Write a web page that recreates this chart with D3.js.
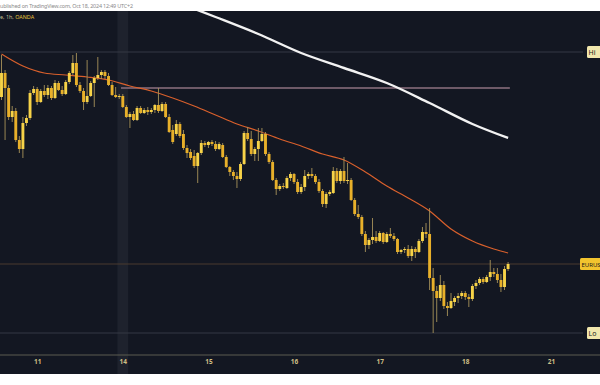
<!DOCTYPE html>
<html>
<head>
<meta charset="utf-8">
<script src="https://cdnjs.cloudflare.com/ajax/libs/d3/7.8.5/d3.min.js"></script>
<style>
  body { margin: 0; background: #fff; }
  svg { display: block; font-family: "Noto Sans", sans-serif; }
</style>
</head>
<body>
<div id="chart"></div>
<script>
// EURUSD 1h, OANDA - bar index 0 = first visible candle
var dayLabels = ["11", "14", "15", "16", "17", "18", "21"];
var dayBars = [10, 34, 58, 82, 106, 130, 154];

var open = [
  1.09335, 1.09455, 1.09380, 1.09235, 1.09265, 1.09120, 1.09075, 1.09205, 1.09230, 1.09355,
  1.09375, 1.09310, 1.09365, 1.09345, 1.09380, 1.09330, 1.09405, 1.09370, 1.09350, 1.09410,
  1.09455, 1.09505, 1.09395, 1.09365, 1.09310, 1.09340, 1.09405, 1.09430, 1.09445, 1.09460,
  1.09440, 1.09395, 1.09345, 1.09335, 1.09340, 1.09285, 1.09235, 1.09250, 1.09220, 1.09280,
  1.09255, 1.09270, 1.09260, 1.09270, 1.09295, 1.09265, 1.09300, 1.09235, 1.09170, 1.09150,
  1.09200, 1.09150, 1.09080, 1.09060, 1.09040, 1.08990, 1.09055, 1.09105, 1.09095, 1.09110,
  1.09100, 1.09075, 1.09095, 1.09035, 1.08985, 1.08960, 1.08940, 1.08925, 1.09000, 1.09155,
  1.09125, 1.09050, 1.09075, 1.09115, 1.09150, 1.09050, 1.09010, 1.08920, 1.08875, 1.08890,
  1.08880, 1.08930, 1.08950, 1.08910, 1.08860, 1.08885, 1.08940, 1.08950, 1.08940, 1.08910,
  1.08865, 1.08800, 1.08850, 1.08855, 1.08965, 1.08915, 1.08965, 1.08915, 1.08920, 1.08820,
  1.08750, 1.08735, 1.08650, 1.08595, 1.08620, 1.08635, 1.08615, 1.08655, 1.08610, 1.08650,
  1.08640, 1.08625, 1.08560, 1.08570, 1.08575, 1.08540, 1.08575, 1.08560, 1.08615, 1.08660,
  1.08650, 1.08430, 1.08365, 1.08330, 1.08395, 1.08290, 1.08280, 1.08310, 1.08330, 1.08340,
  1.08355, 1.08335, 1.08325, 1.08390, 1.08405, 1.08425, 1.08410, 1.08435, 1.08460, 1.08450,
  1.08420, 1.08385, 1.08475
];
var high = [
  1.09545, 1.09470, 1.09395, 1.09290, 1.09280, 1.09140, 1.09235, 1.09245, 1.09370, 1.09390,
  1.09385, 1.09375, 1.09395, 1.09395, 1.09390, 1.09420, 1.09415, 1.09390, 1.09420, 1.09465,
  1.09545, 1.09555, 1.09410, 1.09380, 1.09520, 1.09415, 1.09440, 1.09535, 1.09470, 1.09470,
  1.09455, 1.09410, 1.09385, 1.09350, 1.09350, 1.09295, 1.09260, 1.09265, 1.09290, 1.09290,
  1.09280, 1.09285, 1.09280, 1.09300, 1.09380, 1.09310, 1.09310, 1.09250, 1.09195, 1.09220,
  1.09210, 1.09170, 1.09095, 1.09075, 1.09070, 1.09060, 1.09120, 1.09115, 1.09115, 1.09120,
  1.09115, 1.09110, 1.09105, 1.09045, 1.08990, 1.08970, 1.08960, 1.09010, 1.09165, 1.09185,
  1.09165, 1.09085, 1.09180, 1.09180, 1.09160, 1.09060, 1.09020, 1.08930, 1.08900, 1.08905,
  1.08940, 1.08960, 1.08955, 1.08925, 1.08900, 1.08970, 1.08960, 1.08980, 1.08950, 1.08925,
  1.08875, 1.08860, 1.08870, 1.08985, 1.08980, 1.08975, 1.09035, 1.09005, 1.08930, 1.08830,
  1.08795, 1.08745, 1.08665, 1.08630, 1.08730, 1.08665, 1.08665, 1.08660, 1.08660, 1.08680,
  1.08655, 1.08630, 1.08575, 1.08585, 1.08595, 1.08590, 1.08585, 1.08625, 1.08685, 1.08705,
  1.08780, 1.08480, 1.08390, 1.08445, 1.08415, 1.08310, 1.08355, 1.08340, 1.08355, 1.08365,
  1.08365, 1.08350, 1.08400, 1.08420, 1.08435, 1.08435, 1.08445, 1.08520, 1.08480, 1.08480,
  1.08450, 1.08490, 1.08510
];
var low = [
  1.09320, 1.09120, 1.09220, 1.09210, 1.09110, 1.09055, 1.09030, 1.09190, 1.09220, 1.09345,
  1.09295, 1.09305, 1.09335, 1.09325, 1.09320, 1.09325, 1.09365, 1.09340, 1.09345, 1.09400,
  1.09445, 1.09385, 1.09355, 1.09270, 1.09300, 1.09335, 1.09285, 1.09420, 1.09425, 1.09425,
  1.09390, 1.09340, 1.09330, 1.09325, 1.09280, 1.09230, 1.09180, 1.09215, 1.09215, 1.09250,
  1.09250, 1.09245, 1.09250, 1.09255, 1.09255, 1.09260, 1.09230, 1.09155, 1.09100, 1.09140,
  1.09130, 1.09070, 1.09030, 1.09020, 1.08980, 1.08905, 1.09045, 1.09085, 1.09080, 1.09090,
  1.09065, 1.09070, 1.09030, 1.08980, 1.08940, 1.08920, 1.08880, 1.08915, 1.08995, 1.09115,
  1.09040, 1.09015, 1.09015, 1.09110, 1.09040, 1.09000, 1.08915, 1.08845, 1.08865, 1.08875,
  1.08875, 1.08915, 1.08900, 1.08850, 1.08850, 1.08865, 1.08925, 1.08930, 1.08900, 1.08855,
  1.08785, 1.08780, 1.08840, 1.08850, 1.08905, 1.08900, 1.08905, 1.08900, 1.08815, 1.08740,
  1.08725, 1.08640, 1.08560, 1.08575, 1.08600, 1.08605, 1.08610, 1.08600, 1.08605, 1.08630,
  1.08615, 1.08550, 1.08550, 1.08555, 1.08530, 1.08515, 1.08530, 1.08555, 1.08605, 1.08630,
  1.08370, 1.08155, 1.08210, 1.08315, 1.08275, 1.08240, 1.08275, 1.08290, 1.08305, 1.08325,
  1.08320, 1.08285, 1.08315, 1.08375, 1.08395, 1.08400, 1.08405, 1.08415, 1.08435, 1.08405,
  1.08360, 1.08370, 1.08465
];
var close = [
  1.09455, 1.09380, 1.09235, 1.09265, 1.09120, 1.09075, 1.09205, 1.09230, 1.09355, 1.09375,
  1.09310, 1.09365, 1.09345, 1.09380, 1.09330, 1.09405, 1.09370, 1.09350, 1.09410, 1.09455,
  1.09505, 1.09395, 1.09365, 1.09310, 1.09340, 1.09405, 1.09430, 1.09445, 1.09460, 1.09440,
  1.09395, 1.09345, 1.09335, 1.09340, 1.09285, 1.09235, 1.09250, 1.09220, 1.09280, 1.09255,
  1.09270, 1.09260, 1.09270, 1.09295, 1.09265, 1.09300, 1.09235, 1.09160, 1.09110, 1.09200,
  1.09140, 1.09080, 1.09055, 1.09030, 1.08990, 1.09055, 1.09105, 1.09095, 1.09110, 1.09100,
  1.09075, 1.09100, 1.09035, 1.08985, 1.08960, 1.08940, 1.08925, 1.09000, 1.09155, 1.09125,
  1.09050, 1.09075, 1.09115, 1.09150, 1.09050, 1.09010, 1.08920, 1.08875, 1.08890, 1.08885,
  1.08930, 1.08950, 1.08910, 1.08860, 1.08885, 1.08940, 1.08950, 1.08940, 1.08910, 1.08865,
  1.08800, 1.08850, 1.08860, 1.08965, 1.08915, 1.08965, 1.08915, 1.08920, 1.08820, 1.08750,
  1.08735, 1.08650, 1.08595, 1.08620, 1.08635, 1.08615, 1.08655, 1.08610, 1.08650, 1.08640,
  1.08625, 1.08560, 1.08570, 1.08575, 1.08540, 1.08575, 1.08560, 1.08615, 1.08660, 1.08650,
  1.08430, 1.08365, 1.08330, 1.08395, 1.08290, 1.08280, 1.08315, 1.08330, 1.08340, 1.08355,
  1.08335, 1.08325, 1.08390, 1.08405, 1.08425, 1.08410, 1.08435, 1.08460, 1.08450, 1.08420,
  1.08385, 1.08475, 1.08500
];

// moving averages
var maFastBars = [0, 6, 12, 18, 24, 30, 36, 42, 48, 54, 60, 66, 72, 78, 84, 90, 96, 102, 108, 114, 120, 126, 132, 138, 142];
var maFast = [1.09550, 1.09490, 1.09455, 1.09445, 1.09435, 1.09420, 1.09390, 1.09365, 1.09330, 1.09290,
              1.09245, 1.09200, 1.09165, 1.09125, 1.09090, 1.09050, 1.09020, 1.08960, 1.08890, 1.08830,
              1.08765, 1.08675, 1.08615, 1.08575, 1.08555];
var maSlowBars = [52, 60, 72, 84, 96, 108, 120, 132, 142];
var maSlow = [1.09790, 1.09735, 1.09650, 1.09555, 1.09480, 1.09405, 1.09305, 1.09200, 1.09130];

var highLevel = 1.09560;
var lowLevel = 1.08155;
var zoneLevel = 1.09380;
var zoneFrom = 34;
var highlightBar = 34;

var width = 600, height = 385;
var plotTop = 11, plotBottom = 355, plotRight = 583;

var svg = d3.select('#chart').append('svg')
            .attr('width', width)
            .attr('height', height);

svg.append('rect').attr('width', width).attr('height', height).attr('fill', '#fff');

svg.append('text')
   .attr('x', 0).attr('y', 8)
   .attr('font-size', 5.4)
   .attr('textLength', 133)
   .attr('fill', '#8a8a8a')
   .text('ublished on TradingView.com, Oct 18, 2024 12:49 UTC+2');

svg.append('rect')
   .attr('x', 0).attr('y', plotTop)
   .attr('width', width).attr('height', 374 - plotTop)
   .attr('fill', '#131722');

var x = d3.scaleLinear().domain([-0.42, 163]).range([0, plotRight]);
var y = d3.scaleLinear().domain([1.08045, 1.09765]).range([plotBottom, plotTop]);
var step = x(1) - x(0);

// session highlight
svg.append('rect')
   .attr('x', x(highlightBar) - 1.5 * step)
   .attr('y', plotTop)
   .attr('width', 3 * step)
   .attr('height', 374 - plotTop)
   .attr('fill', '#1e222d');

svg.append('clipPath').attr('id', 'plot')
   .append('rect')
   .attr('x', 0).attr('y', plotTop)
   .attr('width', plotRight).attr('height', plotBottom - plotTop);

var g = svg.append('g').attr('clip-path', 'url(#plot)');

// horizontal levels
g.append('line')
 .attr('x1', 0).attr('x2', plotRight)
 .attr('y1', y(highLevel)).attr('y2', y(highLevel))
 .attr('stroke', '#343845').attr('stroke-width', 1);
g.append('line')
 .attr('x1', 0).attr('x2', plotRight)
 .attr('y1', y(lowLevel)).attr('y2', y(lowLevel))
 .attr('stroke', '#343845').attr('stroke-width', 1);
g.append('line')
 .attr('x1', 0).attr('x2', plotRight)
 .attr('y1', y(close[close.length - 1])).attr('y2', y(close[close.length - 1]))
 .attr('stroke', '#4a3a2e').attr('stroke-width', 1);
g.append('line')
 .attr('x1', x(zoneFrom) - step / 2).attr('x2', x(close.length - 1) + step / 2)
 .attr('y1', y(zoneLevel)).attr('y2', y(zoneLevel))
 .attr('stroke', '#6e5a68').attr('stroke-width', 2);

var line = d3.line()
             .curve(d3.curveMonotoneX)
             .x(function(d) { return x(d[0]); })
             .y(function(d) { return y(d[1]); });

g.append('path')
 .attr('d', line(maSlowBars.map(function(b, i) { return [b, maSlow[i]]; })))
 .attr('fill', 'none').attr('stroke', '#f2f2f2').attr('stroke-width', 2.4);

g.append('path')
 .attr('d', line(maFastBars.map(function(b, i) { return [b, maFast[i]]; })))
 .attr('fill', 'none').attr('stroke', '#d9602c').attr('stroke-width', 1.2);

var candles = open.map(function(o, i) {
  return {i: i, o: o, h: high[i], l: low[i], c: close[i]};
});

var candle = g.selectAll('.candle')
              .data(candles)
              .enter()
              .append('g')
              .attr('class', 'candle');

candle.append('line')
      .attr('x1', function(d) { return x(d.i); })
      .attr('x2', function(d) { return x(d.i); })
      .attr('y1', function(d) { return y(d.h); })
      .attr('y2', function(d) { return y(d.l); })
      .attr('stroke', '#a8935a').attr('stroke-width', 0.9);

candle.append('rect')
      .attr('x', function(d) { return x(d.i) - 1.45; })
      .attr('width', 2.9)
      .attr('y', function(d) { return y(Math.max(d.o, d.c)); })
      .attr('height', function(d) { return Math.max(1, Math.abs(y(d.o) - y(d.c))); })
      .attr('fill', function(d) { return d.c >= d.o ? '#f7d348' : '#e8b02a'; });

// time axis
var axis = svg.append('g')
              .attr('class', 'axis axis-x')
              .attr('transform', 'translate(0,' + plotBottom + ')')
              .call(d3.axisBottom(x)
                      .tickValues(dayBars)
                      .tickFormat(function(d, i) { return dayLabels[i]; })
                      .tickSize(0)
                      .tickPadding(4));
axis.select('.domain').attr('stroke', '#5c5c50').attr('d', 'M0,0H' + width);
axis.selectAll('text')
    .attr('fill', '#cdbf86')
    .attr('font-size', 6.5)
    .attr('font-weight', 'bold')
    .attr('font-family', '"Noto Sans", sans-serif');

// top-left legend
var legend = svg.append('text').attr('x', 0).attr('y', 19).attr('font-size', 5.4);
legend.append('tspan').attr('fill', '#c9bf94').text('e, 1h, ');
legend.append('tspan').attr('fill', '#e8c23a').text('OANDA');

// price scale labels (cut by the window edge, as in the source)
function priceLabel(price, txt, fill, left, size) {
  var cy = y(price);
  svg.append('rect')
     .attr('x', left).attr('y', cy - 6)
     .attr('width', width - left + 4).attr('height', 12)
     .attr('rx', 1.5)
     .attr('fill', fill);
  svg.append('text')
     .attr('x', left + 1.5).attr('y', cy + 2.5)
     .attr('font-size', size)
     .attr('fill', '#1a1a1a')
     .text(txt);
}
priceLabel(highLevel, 'Hi', '#f1e7ad', 587, 7);
priceLabel(close[close.length - 1], 'EURUS', '#f2c42e', 580, 6);
priceLabel(lowLevel, 'Lo', '#f1e7ad', 587, 7);
</script>
</body>
</html>
